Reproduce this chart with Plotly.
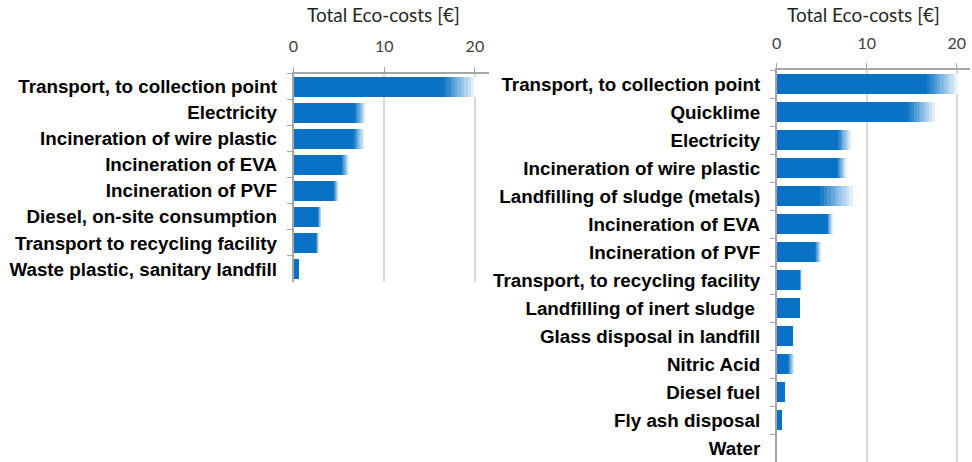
import numpy as np
import plotly.graph_objects as go

# left chart: category, solid end (low), fade end (high) in EUR
left_labels = ["Transport, to collection point", "Electricity", "Incineration of wire plastic",
               "Incineration of EVA", "Incineration of PVF", "Diesel, on-site consumption",
               "Transport to recycling facility", "Waste plastic, sanitary landfill"]
left_low = [16.6, 6.8, 6.6, 5.3, 4.4, 2.7, 2.5, 0.6]
left_high = [20.3, 8.0, 7.9, 6.2, 5.0, 3.1, 2.8, 0.6]

# right chart
right_labels = ["Transport, to collection point", "Quicklime", "Electricity",
                "Incineration of wire plastic", "Landfilling of sludge (metals)",
                "Incineration of EVA", "Incineration of PVF", "Transport, to recycling facility",
                "Landfilling of inert sludge ", "Glass disposal in landfill", "Nitric Acid",
                "Diesel fuel", "Fly ash disposal", "Water"]
right_low = [16.7, 14.6, 6.8, 6.7, 4.8, 5.6, 4.3, 2.6, 2.6, 1.8, 1.3, 0.9, 0.55, 0.0]
right_high = [20.4, 17.9, 8.4, 7.9, 8.9, 6.3, 5.0, 2.8, 2.6, 1.8, 2.0, 0.9, 0.55, 0.0]

tick_vals = [0, 10, 20]
axis_title = "Total Eco-costs [€]"

BLUE = (10, 114, 196)
N_STEPS = 10


def fade_color(frac):
    r, g, b = [int(round(c + (255 - c) * frac)) for c in BLUE]
    return f"rgb({r},{g},{b})"


def add_bars(fig, labels, low, high, xa, ya, width):
    low = np.array(low)
    step = (np.array(high) - low) / N_STEPS
    fig.add_trace(go.Bar(y=labels, x=low, orientation="h", marker_color=fade_color(0),
                         marker_line_width=0, width=width, xaxis=xa, yaxis=ya,
                         showlegend=False, hoverinfo="skip"))
    # uncertainty tail: stacked slices fading to white
    for i in range(N_STEPS):
        fig.add_trace(go.Bar(y=labels, x=step, orientation="h",
                             marker_color=fade_color(0.08 + 0.9 * i / (N_STEPS - 1)),
                             marker_line_width=0, width=width, xaxis=xa, yaxis=ya,
                             showlegend=False, hoverinfo="skip"))


fig = go.Figure()
add_bars(fig, left_labels, left_low, left_high, "x", "y", 0.77)
add_bars(fig, right_labels, right_low, right_high, "x2", "y2", 0.68)

xcommon = dict(side="top", range=[0, 21.5], tickvals=tick_vals, showgrid=True,
               gridcolor="#D9D9D9", gridwidth=1.5, zeroline=False, showline=True,
               linecolor="#A6A6A6", linewidth=1.5, ticks="outside", ticklen=5,
               tickcolor="#A6A6A6", ticklabelstandoff=8, automargin=False,
               tickfont=dict(family="Lato", size=16, color="#404040"))
ycommon = dict(autorange="reversed", showline=True, linecolor="#A6A6A6", linewidth=1.5,
               ticks="outside", tickson="boundaries", ticklen=5, tickcolor="#A6A6A6",
               ticklabelstandoff=11, showgrid=False, automargin=False,
               tickfont=dict(family="Liberation Sans", size=18.8, color="black", weight="bold"))

fig.update_layout(
    width=972, height=462, margin=dict(l=0, r=0, t=0, b=0),
    plot_bgcolor="white", paper_bgcolor="white", barmode="stack", bargap=0.25,
    xaxis=dict(domain=[293.5 / 972, 488.5 / 972], anchor="y", **xcommon),
    yaxis=dict(domain=[(462 - 282) / 462, (462 - 73.5) / 462], anchor="x", **ycommon),
    xaxis2=dict(domain=[776.7 / 972, 970.2 / 972], anchor="y2", **xcommon),
    yaxis2=dict(domain=[0.0, (462 - 70) / 462], anchor="x2", **ycommon),
    annotations=[
        dict(text=axis_title, x=383 / 972, y=1 - 15 / 462, xref="paper", yref="paper",
             xanchor="center", yanchor="middle", showarrow=False,
             font=dict(family="Lato", size=19, color="#262626")),
        dict(text=axis_title, x=863 / 972, y=1 - 15 / 462, xref="paper", yref="paper",
             xanchor="center", yanchor="middle", showarrow=False,
             font=dict(family="Lato", size=19, color="#262626")),
    ],
)

# drop the browser's default body margin so the figure sits at the page corner
fig.write_html("out.html", config={"displayModeBar": False},
               post_script="document.body.style.margin='0px';")
